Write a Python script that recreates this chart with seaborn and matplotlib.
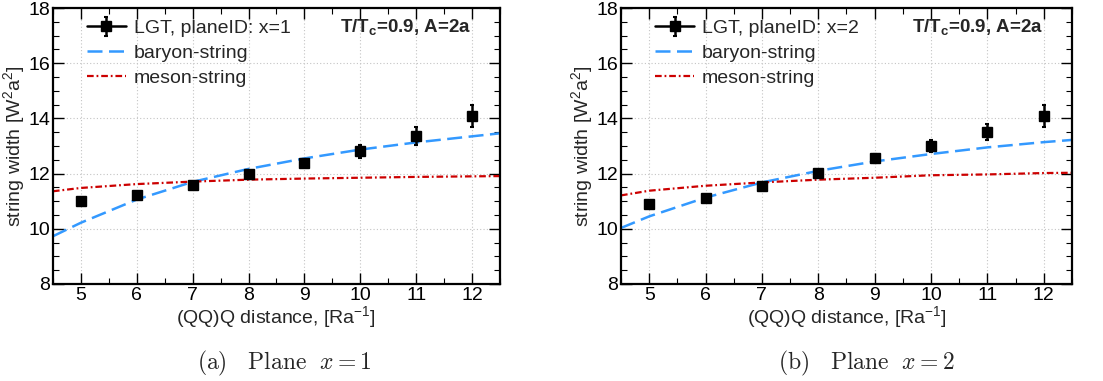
import numpy as np
import pandas as pd
import matplotlib
matplotlib.use("Agg")
import matplotlib.pyplot as plt
from matplotlib.ticker import MultipleLocator
from matplotlib.lines import Line2D
import seaborn as sns

# ---------------- data ----------------
R = [5, 6, 7, 8, 9, 10, 11, 12]
lgt_x1 = [11.02, 11.24, 11.59, 11.99, 12.38, 12.81, 13.36, 14.08]
err_x1 = [0.06, 0.07, 0.08, 0.10, 0.15, 0.24, 0.32, 0.40]
lgt_x2 = [10.89, 11.10, 11.54, 12.02, 12.55, 13.00, 13.50, 14.09]
err_x2 = [0.06, 0.07, 0.08, 0.10, 0.15, 0.22, 0.30, 0.40]

curve_R = [4.5, 5, 6, 7, 8, 9, 10, 11, 12, 12.5]
baryon_x1 = [9.73, 10.22, 11.06, 11.70, 12.17, 12.55, 12.87, 13.13, 13.35, 13.46]
meson_x1 = [11.36, 11.48, 11.62, 11.71, 11.78, 11.82, 11.85, 11.88, 11.90, 11.91]
baryon_x2 = [10.03, 10.45, 11.13, 11.68, 12.10, 12.44, 12.71, 12.95, 13.14, 13.22]
meson_x2 = [11.21, 11.38, 11.56, 11.68, 11.78, 11.85, 11.94, 11.97, 12.02, 12.03]

plane_labels = ["LGT, planeID: x=1", "LGT, planeID: x=2"]
captions = [r"$\mathrm{(a)}\quad\mathrm{Plane}\ \ x = 1$", r"$\mathrm{(b)}\quad\mathrm{Plane}\ \ x = 2$"]
info_text = r"T/T$_\mathbf{c}$=0.9, A=2a"

BLUE = "#3399ff"
RED = "#cc0000"
FS = 14
BAR_DASH = [6, 2.6]
MES_DASH = [3, 1.3, 0.8, 1.3]

sns.set_theme(style="ticks")
plt.rcParams["font.family"] = ["Liberation Sans", "DejaVu Sans"]
plt.rcParams["mathtext.fontset"] = "custom"
plt.rcParams["mathtext.rm"] = "Liberation Sans"
plt.rcParams["mathtext.it"] = "Liberation Sans:italic"
plt.rcParams["mathtext.bf"] = "Liberation Sans:bold"

fig = plt.figure(figsize=(11.03, 3.81), dpi=100)
axes = [fig.add_axes([0.0480, 0.2546, 0.4053, 0.7244]),
        fig.add_axes([0.5630, 0.2546, 0.4089, 0.7244])]

datasets = [(lgt_x1, err_x1, baryon_x1, meson_x1), (lgt_x2, err_x2, baryon_x2, meson_x2)]

for i, (ax, (lgt, err, bar, mes)) in enumerate(zip(axes, datasets)):
    cdf = pd.DataFrame({"R": curve_R, "baryon": bar, "meson": mes})
    sns.lineplot(data=cdf, x="R", y="baryon", ax=ax, color=BLUE, lw=1.8)
    ax.lines[-1].set_dashes(BAR_DASH)
    sns.lineplot(data=cdf, x="R", y="meson", ax=ax, color=RED, lw=1.6)
    ax.lines[-1].set_dashes(MES_DASH)
    eb = ax.errorbar(R, lgt, yerr=err, fmt="s", color="black", ms=6.5,
                     elinewidth=1.8, capsize=1.5, capthick=1.5, zorder=5)

    ax.set_xlim(4.5, 12.5)
    ax.set_ylim(8, 18)
    ax.xaxis.set_major_locator(MultipleLocator(1))
    ax.xaxis.set_minor_locator(MultipleLocator(0.5))
    ax.yaxis.set_major_locator(MultipleLocator(2))
    ax.yaxis.set_minor_locator(MultipleLocator(0.5))
    ax.tick_params(which="both", direction="in", top=True, right=True,
                   labelsize=FS, colors="black")
    ax.tick_params(which="major", length=8, width=1.0, pad=2)
    ax.tick_params(which="minor", length=4, width=0.8)
    ax.grid(True, which="major", ls=(0, (1, 2)), color="#c4c4c4", lw=0.8)
    for s in ax.spines.values():
        s.set_linewidth(1.6)
        s.set_color("black")

    ax.set_xlabel(r"(QQ)Q distance, [Ra$^{\mathregular{-1}}$]", fontsize=FS, labelpad=0)
    ax.set_ylabel(r"string width [W$^{\mathregular{2}}$a$^{\mathregular{2}}$]", fontsize=FS, labelpad=1)

    handles = [
        (Line2D([], [], color="black", lw=1.8), eb),
        Line2D([], [], color=BLUE, lw=1.8, dashes=BAR_DASH),
        Line2D([], [], color=RED, lw=1.6, dashes=MES_DASH),
    ]
    ax.legend(handles, [plane_labels[i], "baryon-string", "meson-string"],
              loc="upper left", bbox_to_anchor=(0.05, 1.0), frameon=False,
              fontsize=FS, handlelength=2.0, handletextpad=0.4,
              labelspacing=0.36, borderaxespad=0.2)

    ax.text(0.935, 0.93, info_text, transform=ax.transAxes, ha="right", va="center",
            fontsize=13.5, fontweight="bold")

fig.text(0.258, 0.045, captions[0], ha="center", va="center", fontsize=17,
         math_fontfamily="cm")
fig.text(0.785, 0.045, captions[1], ha="center", va="center", fontsize=17,
         math_fontfamily="cm")

fig.savefig("out.png", dpi=100)
